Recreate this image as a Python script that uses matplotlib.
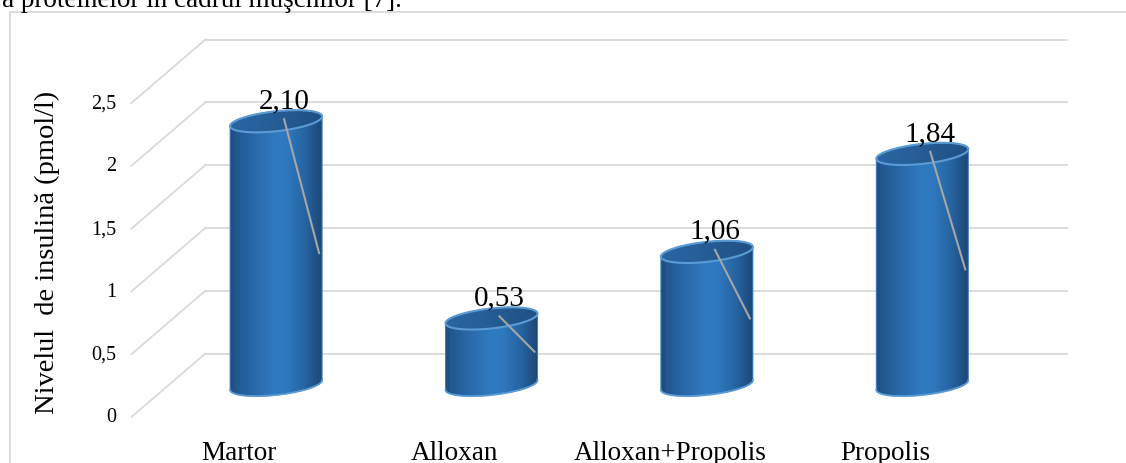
import numpy as np
import matplotlib
matplotlib.use('Agg')
import matplotlib.pyplot as plt
from matplotlib.path import Path
from matplotlib.patches import PathPatch
from matplotlib.lines import Line2D
from matplotlib.colors import LinearSegmentedColormap
import matplotlib.transforms as mtransforms

# ---------------- data ----------------
categories = ['Martor', 'Alloxan', 'Alloxan+Propolis', 'Propolis']
values = [2.10, 0.53, 1.06, 1.84]
value_labels = ['2,10', '0,53', '1,06', '1,84']
yticks = [0, 0.5, 1, 1.5, 2, 2.5]
ytick_labels = ['0', '0,5', '1', '1,5', '2', '2,5']
ylabel = 'Nivelul  de insulină (pmol/l)'
caption = 'a proteinelor în cadrul muşchilor [7].'

# ---------------- figure ----------------
W, H = 1126, 464
DPI = 100
plt.rcParams['font.family'] = ['Liberation Serif', 'DejaVu Serif']
fig = plt.figure(figsize=(W / DPI, H / DPI), dpi=DPI)
fig.patch.set_facecolor('white')
ax = fig.add_axes([168.4 / W, (H - 386) / H, 861.6 / W, 314 / H])
XLIM = (-0.5, len(categories) - 0.5)
YLIM = (0, 2.5)
ax.set_xlim(*XLIM)
ax.set_ylim(*YLIM)
ax.axis('off')

ident = mtransforms.IdentityTransform()
BACK = np.array([37.0, 31.5])    # depth offset (pixels) of the back wall
FRONT = np.array([-37.0, -32.0])  # depth offset (pixels) of the front plane
GRID = '#d9d9d9'

def D(x, y):
    return ax.transData.transform((x, y))

# back wall + side wall gridlines
for v in yticks:
    p0 = D(XLIM[0], v) + BACK
    p1 = D(XLIM[1], v) + BACK
    ax.add_line(Line2D([p0[0], p1[0]], [p0[1], p1[1]], transform=ident,
                       color=GRID, lw=1.3, clip_on=False, zorder=1))
    f0 = D(XLIM[0], v) + FRONT
    ax.add_line(Line2D([f0[0], p0[0]], [f0[1], p0[1]], transform=ident,
                       color=GRID, lw=1.3, clip_on=False, zorder=1))

# tick labels on front plane
for v, lab in zip(yticks, ytick_labels):
    tr = mtransforms.offset_copy(ax.transData, fig, x=FRONT[0] - 15.5, y=FRONT[1], units='dots')
    ax.text(XLIM[0], v, lab, transform=tr, ha='right', va='center',
            fontsize=14.5, color='#000000', clip_on=False)

# category labels
for i, c in enumerate(categories):
    tr = mtransforms.offset_copy(ax.transData, fig, x=-37, y=-74, units='dots')
    ax.text(i, 0, c, transform=tr, ha='center', va='baseline',
            fontsize=19.5, color='#000000', clip_on=False)

# cylinder colours
body_cmap = LinearSegmentedColormap.from_list('body', [
    (0.0, '#1c4876'), (0.07, '#225790'), (0.3, '#2a6cae'), (0.5, '#2f7bc2'),
    (0.62, '#2e78be'), (0.82, '#26639f'), (0.93, '#1f5185'), (1.0, '#1b4672')])
cap_cmap = LinearSegmentedColormap.from_list('cap', [
    (0.0, '#2a66a3'), (0.4, '#275f98'), (1.0, '#1f5083')])

w, b = 46.0, 10.0
slope = np.tan(np.radians(6))
grad = np.linspace(0, 1, 256).reshape(1, -1)

def ell(cx, cy, t):
    return cx + w * np.cos(t), cy + b * np.sin(t) + w * np.cos(t) * slope

inv = ax.transData.inverted()

for i, v in enumerate(values):
    cx, y0 = D(i, 0)
    _, y1 = D(i, v)
    tb = np.linspace(np.pi, 2 * np.pi, 80)
    tt = np.linspace(0, np.pi, 80)
    bx, by = ell(cx, y0, tb)
    tx, ty = ell(cx, y1, tt)
    xs = np.concatenate([bx, tx])
    ys = np.concatenate([by, ty])
    verts = np.column_stack([xs, ys])
    body = PathPatch(Path(np.vstack([verts, verts[:1]]), closed=True), transform=ident,
                     facecolor='none', edgecolor='#3a7fc2', lw=0.7, zorder=3, clip_on=False)
    ax.add_patch(body)
    # gradient image clipped to body
    (dx0, dy0) = inv.transform((cx - w - 1, y0 - b - w * slope - 2))
    (dx1, dy1) = inv.transform((cx + w + 1, y1 + b + w * slope + 2))
    im = ax.imshow(grad, cmap=body_cmap, extent=(dx0, dx1, dy0, dy1), aspect='auto',
                   interpolation='bilinear', zorder=2)
    im.set_clip_box(fig.bbox)
    im.set_clip_path(body)
    # bottom rim
    ax.add_line(Line2D(bx, by, transform=ident, color='#5b9bd5', lw=1.3, zorder=4, clip_on=False))
    # top cap
    tf = np.linspace(0, 2 * np.pi, 160)
    cxs, cys = ell(cx, y1, tf)
    cap = PathPatch(Path(np.column_stack([cxs, cys]), closed=True), transform=ident,
                    facecolor='none', edgecolor='#5b9bd5', lw=1.5, zorder=5, clip_on=False)
    ax.add_patch(cap)
    (ex0, ey0) = inv.transform((cx - w - 1, y1 - b - w * slope - 2))
    (ex1, ey1) = inv.transform((cx + w + 1, y1 + b + w * slope + 2))
    im2 = ax.imshow(grad, cmap=cap_cmap, extent=(ex0, ex1, ey0, ey1), aspect='auto',
                    interpolation='bilinear', zorder=4.5)
    im2.set_clip_box(fig.bbox)
    im2.set_clip_path(cap)
    # leader line
    _, ym = D(i, v / 2)
    ax.add_line(Line2D([cx + 8, cx + 43], [y1 + 2, ym], transform=ident,
                       color='#a6a6a6', lw=1.5, zorder=6, clip_on=False))
    # value label
    ax.text(cx + 8, y1 + 14, value_labels[i], transform=ident, ha='center', va='baseline',
            fontsize=21, color='#000000', zorder=7, clip_on=False)

ax.set_xlim(*XLIM)
ax.set_ylim(*YLIM)

# axis title
fig.text(47.5 / W, 1 - 252 / H, ylabel, rotation=90, ha='center', va='center',
         fontsize=20.5, color='#000000')

# caption cut at top (as in the reference)
fig.text(2 / W, 1 - 7 / H, caption, ha='left', va='baseline', fontsize=19.5, color='#000000')

# chart frame
fig.add_artist(Line2D([9.5 / W, 9.5 / W, 1.0], [0.0, 1 - 13 / H, 1 - 13 / H],
                      transform=fig.transFigure, color=GRID, lw=1.3))

fig.savefig('out.png', dpi=DPI, facecolor='white')
